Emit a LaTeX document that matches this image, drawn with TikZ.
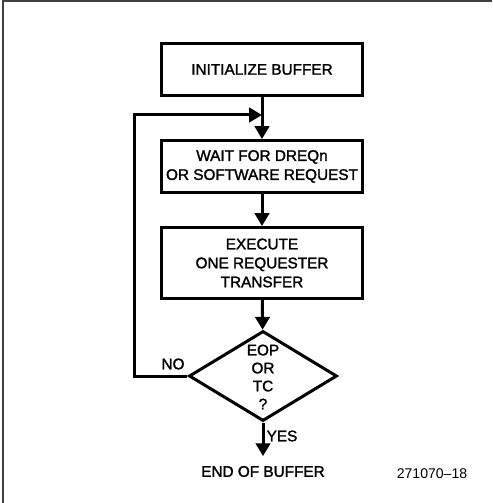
\documentclass[tikz,border=0pt]{standalone}
\usepackage{fontspec}
\setmainfont{Liberation Sans}
\newfontfamily\cadfont{Liberation Sans}[FakeBold=1.6]
\usetikzlibrary{shapes.geometric,arrows.meta}

\begin{document}
\begin{tikzpicture}[x=0.025cm, y=-0.025cm,
    txt/.style={font=\cadfont\fontsize{10.9}{13.5}\selectfont, align=center},
    box/.style={txt, shape=rectangle, draw=black, line width=0.075cm, minimum width=5.025cm, inner sep=0pt},
    decision/.style={shape=diamond, draw=black, line width=0.075cm, minimum width=3.7cm, minimum height=2.25cm, aspect=1.64, inner sep=0pt},
    flow/.style={line width=0.075cm, -{Triangle[length=0.32cm, width=0.36cm]}},
    frame/.style={draw=black!75, line width=0.05cm}]
    \useasboundingbox (0,0) rectangle (492,503);
    \draw[frame] (3,503) -- (3,1.5) -- (492,1.5);
    \node[box, minimum height=1.3cm] at (262,69.5) (INIT) {INITIALIZE BUFFER};
    \node[box, minimum height=1.3cm] at (262,166.5) (WAIT) {WAIT FOR DREQn\\OR SOFTWARE REQUEST};
    \node[box, minimum height=1.775cm] at (262,263) (EXEC) {EXECUTE\\ONE REQUESTER\\TRANSFER};
    \node[decision] at (263,376) (EOP) {};
    \node[txt, font=\cadfont\fontsize{10.9}{12.8}\selectfont] at (263,377) (Q) {EOP\\OR\\TC\\?};
    \node[txt] at (263,471.5) (END) {END OF BUFFER};
    \node[txt] at (173,364) (NO) {NO};
    \node[txt] at (282,436) (YES) {YES};
    \node[font=\fontsize{10}{12}\selectfont] at (432,474) (FIG) {271070--18};
    \coordinate (JOIN) at (262,115);
    \coordinate (LOOP) at (134,376);
    \draw[flow] (INIT) -- (WAIT);
    \draw[flow] (WAIT) -- (EXEC);
    \draw[flow] (EXEC) -- (EOP);
    \draw[flow] (EOP.west) -- (LOOP) |- (JOIN);
    \draw[flow, shorten >=0.125cm] (EOP.south) -- (END);
\end{tikzpicture}
\end{document}
